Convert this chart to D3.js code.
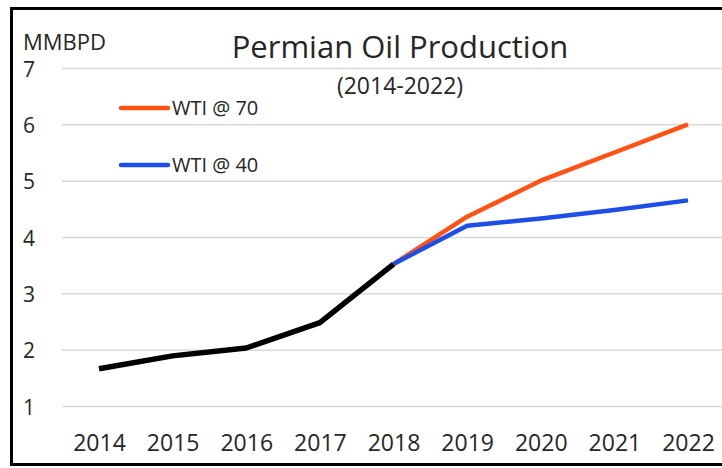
<!DOCTYPE html>
<html>
<head>
<meta charset="utf-8">
<script src="https://cdn.jsdelivr.net/npm/d3@7"></script>
<style>
  html, body { margin: 0; padding: 0; background: #fff; }
  svg { display: block; }
  text { font-family: "Open Sans", sans-serif; fill: #262626; }
</style>
</head>
<body>
<svg id="chart" width="722" height="468"></svg>
<script>
const years = ["2014","2015","2016","2017","2018","2019","2020","2021","2022"];
const historical = [1.66, 1.89, 2.03, 2.48, 3.52];
const wti70 = [3.52, 4.36, 5.0, 5.5, 6.0];
const wti40 = [3.52, 4.2, 4.33, 4.48, 4.65];
const yTicks = [1, 2, 3, 4, 5, 6, 7];
const histYears = years.slice(0, 5);
const forecastYears = years.slice(4);
const title = "Permian Oil Production";
const subtitle = "(2014-2022)";
const unitLabel = "MMBPD";
const legendLabels = ["WTI @ 70", "WTI @ 40"];
const colors = { hist: "#000000", wti70: "#FF5214", wti40: "#1D4FE6" };

const svg = d3.select("#chart");
const W = 722, H = 468;

const x = d3.scalePoint().domain(years).range([99, 688]);
const y = d3.scaleLinear().domain([1, 7]).range([406, 68]);

// gridlines via axis
const grid = svg.append("g").attr("transform", "translate(62,0)")
  .call(d3.axisRight(y).tickValues(yTicks).tickSize(W - 62).tickFormat(""));
grid.select(".domain").remove();
grid.selectAll(".tick line").attr("stroke", "#d9d9d9").attr("stroke-width", 1.5);

// y labels
const yAx = svg.append("g").attr("transform", "translate(23,0)")
  .call(d3.axisLeft(y).tickValues(yTicks).tickSize(0).tickFormat(d3.format("d")));
yAx.select(".domain").remove();
yAx.selectAll(".tick text")
  .attr("x", 0).attr("dy", null).attr("y", 8)
  .attr("text-anchor", "start")
  .style("font-size", "21px").style("font-family", "'Open Sans', sans-serif").attr("fill", "#262626");

// x labels
const xAx = svg.append("g").attr("transform", "translate(0,451)")
  .call(d3.axisBottom(x).tickSize(0));
xAx.select(".domain").remove();
xAx.selectAll(".tick text")
  .attr("y", 0).attr("dy", null)
  .style("font-size", "23px").style("font-family", "'Open Sans', sans-serif").attr("fill", "#262626");

// lines
const line = d3.line().x(d => x(d[0])).y(d => y(d[1]));
function draw(ys, vals, color, w) {
  svg.append("path")
    .datum(d3.zip(ys, vals))
    .attr("d", line)
    .attr("fill", "none")
    .attr("stroke", color)
    .attr("stroke-width", w)
    .attr("stroke-linejoin", "round");
}
draw(forecastYears, wti70, colors.wti70, 4.5);
draw(forecastYears, wti40, colors.wti40, 4.5);
draw(histYears, historical, colors.hist, 5.5);

// titles
svg.append("text").attr("x", 400).attr("y", 58).attr("text-anchor", "middle")
  .style("font-size", "31px").text(title);
svg.append("text").attr("x", 400).attr("y", 94).attr("text-anchor", "middle")
  .style("font-size", "23px").text(subtitle);
svg.append("text").attr("x", 23).attr("y", 50)
  .style("font-size", "22px").text(unitLabel);

// legend
const legend = [[legendLabels[0], colors.wti70, 108], [legendLabels[1], colors.wti40, 165]];
legend.forEach(([label, color, ly]) => {
  svg.append("line").attr("x1", 121).attr("x2", 168).attr("y1", ly).attr("y2", ly)
    .attr("stroke", color).attr("stroke-width", 4.5).attr("stroke-linecap", "round");
  svg.append("text").attr("x", 172).attr("y", ly + 7)
    .style("font-size", "20px").text(label);
});

// frame
svg.append("rect").attr("x", 11.5).attr("y", 8.5).attr("width", 730).attr("height", 456)
  .attr("fill", "none").attr("stroke", "#000").attr("stroke-width", 3);
</script>
</body>
</html>
